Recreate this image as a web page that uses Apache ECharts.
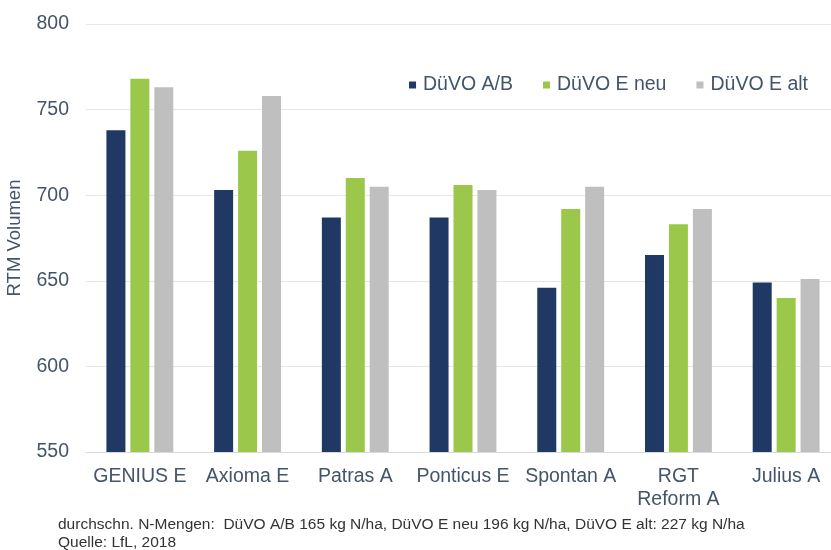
<!DOCTYPE html>
<html><head><meta charset="utf-8">
<script src="https://cdn.jsdelivr.net/npm/echarts@6/dist/echarts.min.js"></script>
<style>html,body{margin:0;padding:0;background:#fff}#c{width:831px;height:550px}</style>
</head><body><div id="c"></div>
<script>
const categories = ["GENIUS E", "Axioma E", "Patras A", "Ponticus E", "Spontan A", "RGT\nReform A", "Julius A"];
const seriesNames = ["DüVO A/B", "DüVO E neu", "DüVO E alt"];
const duvoAB = [738, 703, 687, 687, 646, 665, 649];
const duvoENeu = [768, 726, 710, 706, 692, 683, 640];
const duvoEAlt = [763, 758, 705, 703, 705, 692, 651];
const yTicks = { min: 550, max: 800, interval: 50 };
const yName = "RTM Volumen";
const footLines = ["durchschn. N-Mengen:  DüVO A/B 165 kg N/ha, DüVO E neu 196 kg N/ha, DüVO E alt: 227 kg N/ha", "Quelle: LfL, 2018"];
const colors = ["#1F3864", "#9BC84B", "#BFBFBF"];
const txt = "#44546A";
const font = "Liberation Sans";

const chart = echarts.init(document.getElementById('c'));
const data = [duvoAB, duvoENeu, duvoEAlt];
chart.setOption({
  animation: false,
  textStyle: { fontFamily: font },
  legend: {
    top: 70, right: 18, itemWidth: 7, itemHeight: 7, itemGap: 30, icon: 'rect',
    textStyle: { color: txt, fontSize: 19.5, fontFamily: font, padding: [0, 0, 0, 2] },
    data: seriesNames
  },
  grid: { left: 86, top: 24, width: 754, height: 428, outerBoundsMode: 'none', containLabel: false },
  xAxis: {
    type: 'category', data: categories,
    axisLine: { show: true, lineStyle: { color: '#D9D9D9' } },
    axisTick: { show: false },
    axisLabel: { color: txt, fontSize: 19.5, margin: 13, lineHeight: 23, interval: 0, fontFamily: font }
  },
  yAxis: {
    type: 'value', min: yTicks.min, max: yTicks.max, interval: yTicks.interval,
    name: yName, nameLocation: 'middle', nameGap: 62, nameRotate: 90,
    nameTextStyle: { color: txt, fontSize: 18.5, fontFamily: font },
    axisLine: { show: false }, axisTick: { show: false },
    axisLabel: { color: txt, fontSize: 19.5, margin: 17, fontFamily: font },
    splitLine: { lineStyle: { color: '#E6E6E6' } }
  },
  graphic: footLines.map((t, i) => ({
    type: 'text', left: 58, top: 517 + i * 18,
    style: { text: t, fill: '#333', fontSize: 15.5, fontFamily: font }
  })),
  series: data.map((d, i) => ({
    name: seriesNames[i], type: 'bar', data: d, barWidth: 19, barGap: '26%',
    itemStyle: { color: colors[i] }
  }))
});
</script></body></html>
